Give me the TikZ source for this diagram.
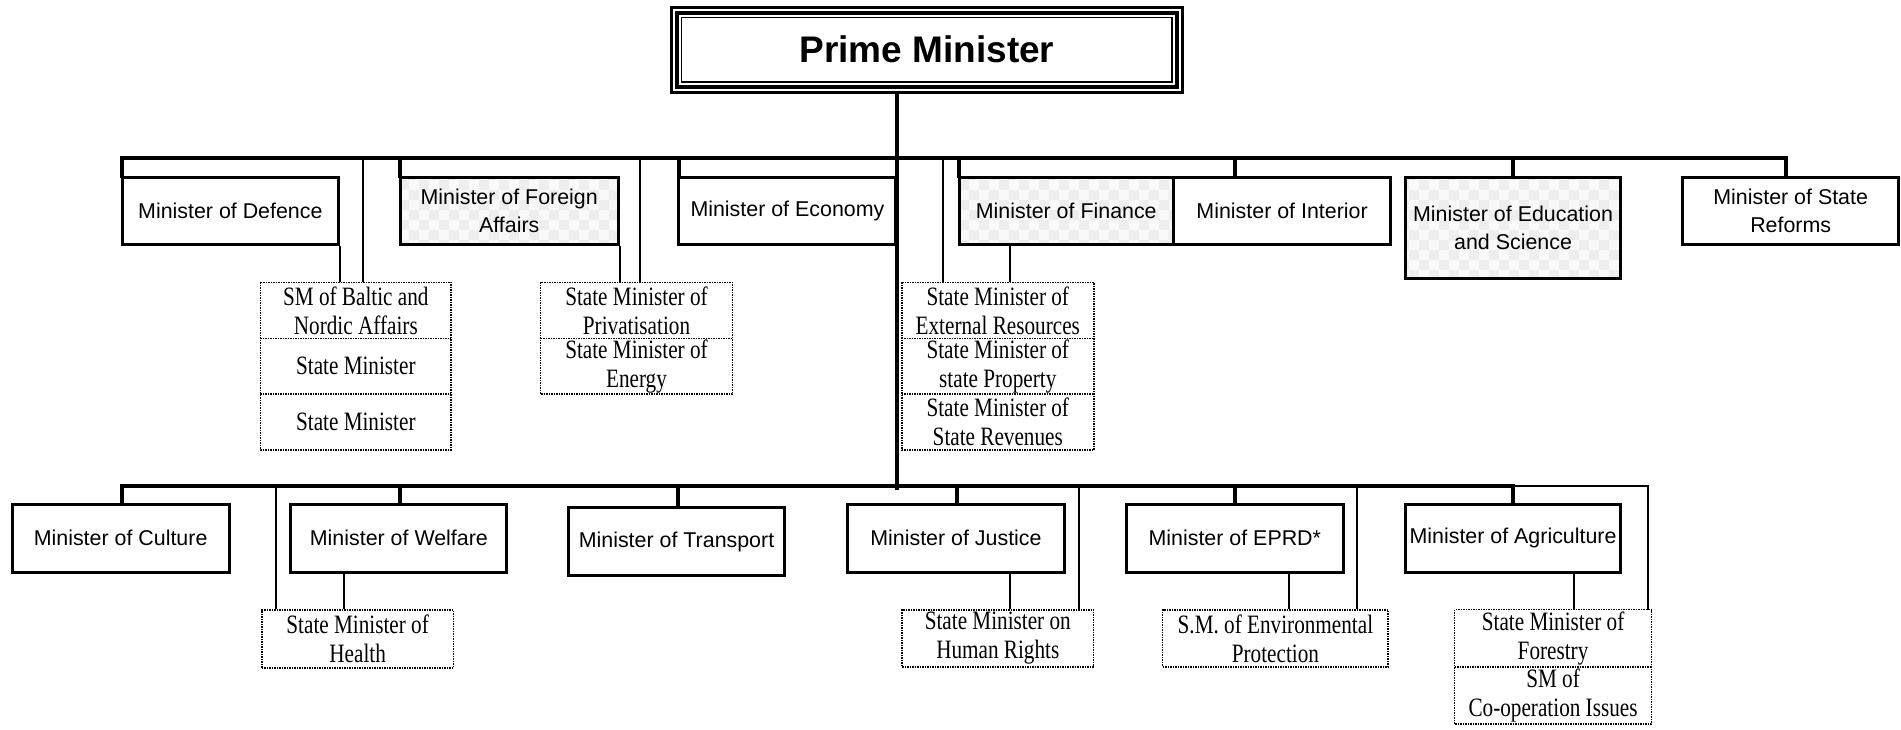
\documentclass[tikz,border=0pt]{standalone}
\usepackage{fontspec}
\setmainfont{Liberation Serif}
\newfontfamily\sansf{Liberation Sans}
\newfontfamily\serifc[FakeStretch=0.8]{Liberation Serif}
\usetikzlibrary{patterns.meta}
\tikzdeclarepattern{
  name=bigchk, type=uncolored,
  bounding box={(0pt,0pt) and (20pt,20pt)},
  tile size={(20pt,20pt)},
  code={\fill (0pt,0pt) rectangle (10pt,10pt); \fill (10pt,10pt) rectangle (20pt,20pt);}
}
\begin{document}
\begin{tikzpicture}[x=1.2124pt,y=-1.2124pt,
  wh/.style 2 args={minimum width={#1*1.2124pt}, minimum height={#2*1.2124pt}},
  mbox/.style={draw, line width=3pt, inner sep=0pt, align=center, font=\sansf\fontsize{21.4}{27.5}\selectfont},
  chkbox/.style={mbox, preaction={fill=gray!5}, preaction={pattern=bigchk, pattern color=gray!13}},
  cell/.style={inner sep=0pt, align=center, font=\serifc\fontsize{26.5}{29}\selectfont},
  dotline/.style={densely dotted, line width=1.5pt},
  bus/.style={line width=4pt, line cap=rect},
  link/.style={line width=2pt}
]
\useasboundingbox (0,0) rectangle (1568,602);

% Prime Minister
\node[draw, line width=3pt, inner sep=0pt, wh={421}{70}, font=\sansf\bfseries\fontsize{37}{40}\selectfont] (pm) at (764.5,41) {Prime Minister};
\draw[line width=4pt] ([shift={(7pt,-7pt)}]pm.north west) rectangle ([shift={(-7pt,7pt)}]pm.south east);
\draw[line width=1.5pt] ([shift={(11.5pt,-11.5pt)}]pm.north west) rectangle ([shift={(-11.5pt,11.5pt)}]pm.south east);

% top row
\node[mbox, wh={178}{56}] (def) at (190,174) {Minister of Defence};
\node[chkbox, wh={180}{56}] (fa) at (420,174) {Minister of Foreign\\Affairs};
\node[mbox, wh={179}{56}] (eco) at (649.5,174) {Minister of Economy};
\node[chkbox, wh={177}{56}] (fin) at (879.5,174) {Minister of Finance};
\node[mbox, wh={179}{56}] (int) at (1057.5,174) {Minister of Interior};
\node[chkbox, wh={178}{84}] (edu) at (1248,188) {Minister of Education\\and Science};
\node[mbox, wh={178}{56}] (ref) at (1477,174) {Minister of State\\Reforms};

% top stacks
\node[cell, wh={157}{46}] (bal1) at (293.5,256) {SM of Baltic and\\Nordic Affairs};
\node[cell, wh={157}{46}] (bal2) at (293.5,302) {State Minister};
\node[cell, wh={157}{46}] (bal3) at (293.5,348) {State Minister};
\draw[dotline] (bal1.north west) rectangle (bal3.south east);
\draw[dotline] (bal1.south west) -- (bal1.south east);
\draw[dotline] (bal2.south west) -- (bal2.south east);

\node[cell, wh={158}{46}] (pri1) at (525,256) {State Minister of\\Privatisation};
\node[cell, wh={158}{46}] (pri2) at (525,302) {State Minister of\\Energy};
\draw[dotline] (pri1.north west) rectangle (pri2.south east);
\draw[dotline] (pri1.south west) -- (pri1.south east);

\node[cell, wh={158}{46}] (ext1) at (823,256) {State Minister of\\External Resources};
\node[cell, wh={158}{46}] (ext2) at (823,302) {State Minister of\\state Property};
\node[cell, wh={158}{46}] (ext3) at (823,348) {State Minister of\\State Revenues};
\draw[dotline] (ext1.north west) rectangle (ext3.south east);
\draw[dotline] (ext1.south west) -- (ext1.south east);
\draw[dotline] (ext2.south west) -- (ext2.south east);

% bottom row
\node[mbox, wh={179}{56}] (cul) at (99.5,444) {Minister of Culture};
\node[mbox, wh={178}{56}] (wel) at (329,444) {Minister of Welfare};
\node[mbox, wh={178}{56}] (tra) at (558,447) {Minister of Transport};
\node[mbox, wh={179}{56}] (jus) at (788.5,444) {Minister of Justice};
\node[mbox, wh={179}{56}] (eprd) at (1018.5,444) {Minister of EPRD*};
\node[mbox, wh={178}{56}] (agr) at (1248,444) {Minister of Agriculture};

% bottom stacks
\node[cell, dotline, draw, wh={158}{48}] (hea) at (295,527) {State Minister of\\Health};
\node[cell, dotline, draw, wh={158}{47}] (hr) at (823,526.5) {State Minister on\\Human Rights};
\node[cell, dotline, draw, wh={186}{47}] (env) at (1052,526.5) {S.M. of Environmental\\Protection};
\node[cell, wh={162}{47}] (for1) at (1281,526.5) {State Minister of\\Forestry};
\node[cell, wh={162}{47}] (for2) at (1281,573.5) {SM of\\Co-operation Issues};
\draw[dotline] (for1.north west) rectangle (for2.south east);
\draw[dotline] (for1.south west) -- (for1.south east);

% bus coordinates
\coordinate (t1) at (101,130);
\coordinate (t2) at (299,130);
\coordinate (t3) at (330,130);
\coordinate (t4) at (528,130);
\coordinate (t5) at (560,130);
\coordinate (t6) at (778,130);
\coordinate (t7) at (791,130);
\coordinate (t8) at (1019,130);
\coordinate (t9) at (1248,130);
\coordinate (t10) at (1473,130);
\coordinate (cen) at (740,401);
\coordinate (b1) at (101,401);
\coordinate (b2) at (228,401);
\coordinate (b3) at (330,401);
\coordinate (b4) at (559,401);
\coordinate (b5) at (789,401);
\coordinate (b6) at (890,401);
\coordinate (b7) at (1019,401);
\coordinate (b8) at (1119,401);
\coordinate (b9) at (1248,401);
\coordinate (b10) at (1359,401);
\coordinate (xf) at (833,0);
\coordinate (xw) at (284,0);
\coordinate (xj) at (833,0);
\coordinate (xe) at (1063,0);
\coordinate (xa) at (1298,0);

% main lines
\draw[bus] (pm.south -| cen) -- ([yshift=-2pt]cen);
\draw[bus] (t1) -- (t10);
\draw[bus] (b1) -- (b9);

% top drops
\draw[bus] (t1) -- (t1 |- def.north);
\draw[bus] (t3) -- (t3 |- fa.north);
\draw[bus] (t5) -- (t5 |- eco.north);
\draw[bus] (t7) -- (t7 |- fin.north);
\draw[bus] (t8) -- (t8 |- int.north);
\draw[bus] (t9) -- (t9 |- edu.north);
\draw[bus] (t10) -- (t10 |- ref.north);
\draw[link] (t2) -- (t2 |- bal1.north);
\draw[link] (t4) -- (t4 |- pri1.north);
\draw[link] (t6) -- (t6 |- ext1.north);
\draw[link] (def.south east) -- (def.south east |- bal1.north);
\draw[link] (fa.south east) -- (fa.south east |- pri1.north);
\draw[link] (fin.south -| xf) -- (xf |- ext1.north);

% bottom drops
\draw[bus] (b1) -- (b1 |- cul.north);
\draw[bus] (b3) -- (b3 |- wel.north);
\draw[bus] (b4) -- (b4 |- tra.north);
\draw[bus] (b5) -- (b5 |- jus.north);
\draw[bus] (b7) -- (b7 |- eprd.north);
\draw[bus] (b9) -- (b9 |- agr.north);
\draw[link] (b2) -- (b2 |- hea.north);
\draw[link] (b6) -- (b6 |- hr.north);
\draw[link] (b8) -- (b8 |- env.north);
\draw[link] (b9) -- (b10) -- (b10 |- for1.north);
\draw[link] (wel.south -| xw) -- (xw |- hea.north);
\draw[link] (jus.south -| xj) -- (xj |- hr.north);
\draw[link] (eprd.south -| xe) -- (xe |- env.north);
\draw[link] (agr.south -| xa) -- (xa |- for1.north);
\end{tikzpicture}
\end{document}
